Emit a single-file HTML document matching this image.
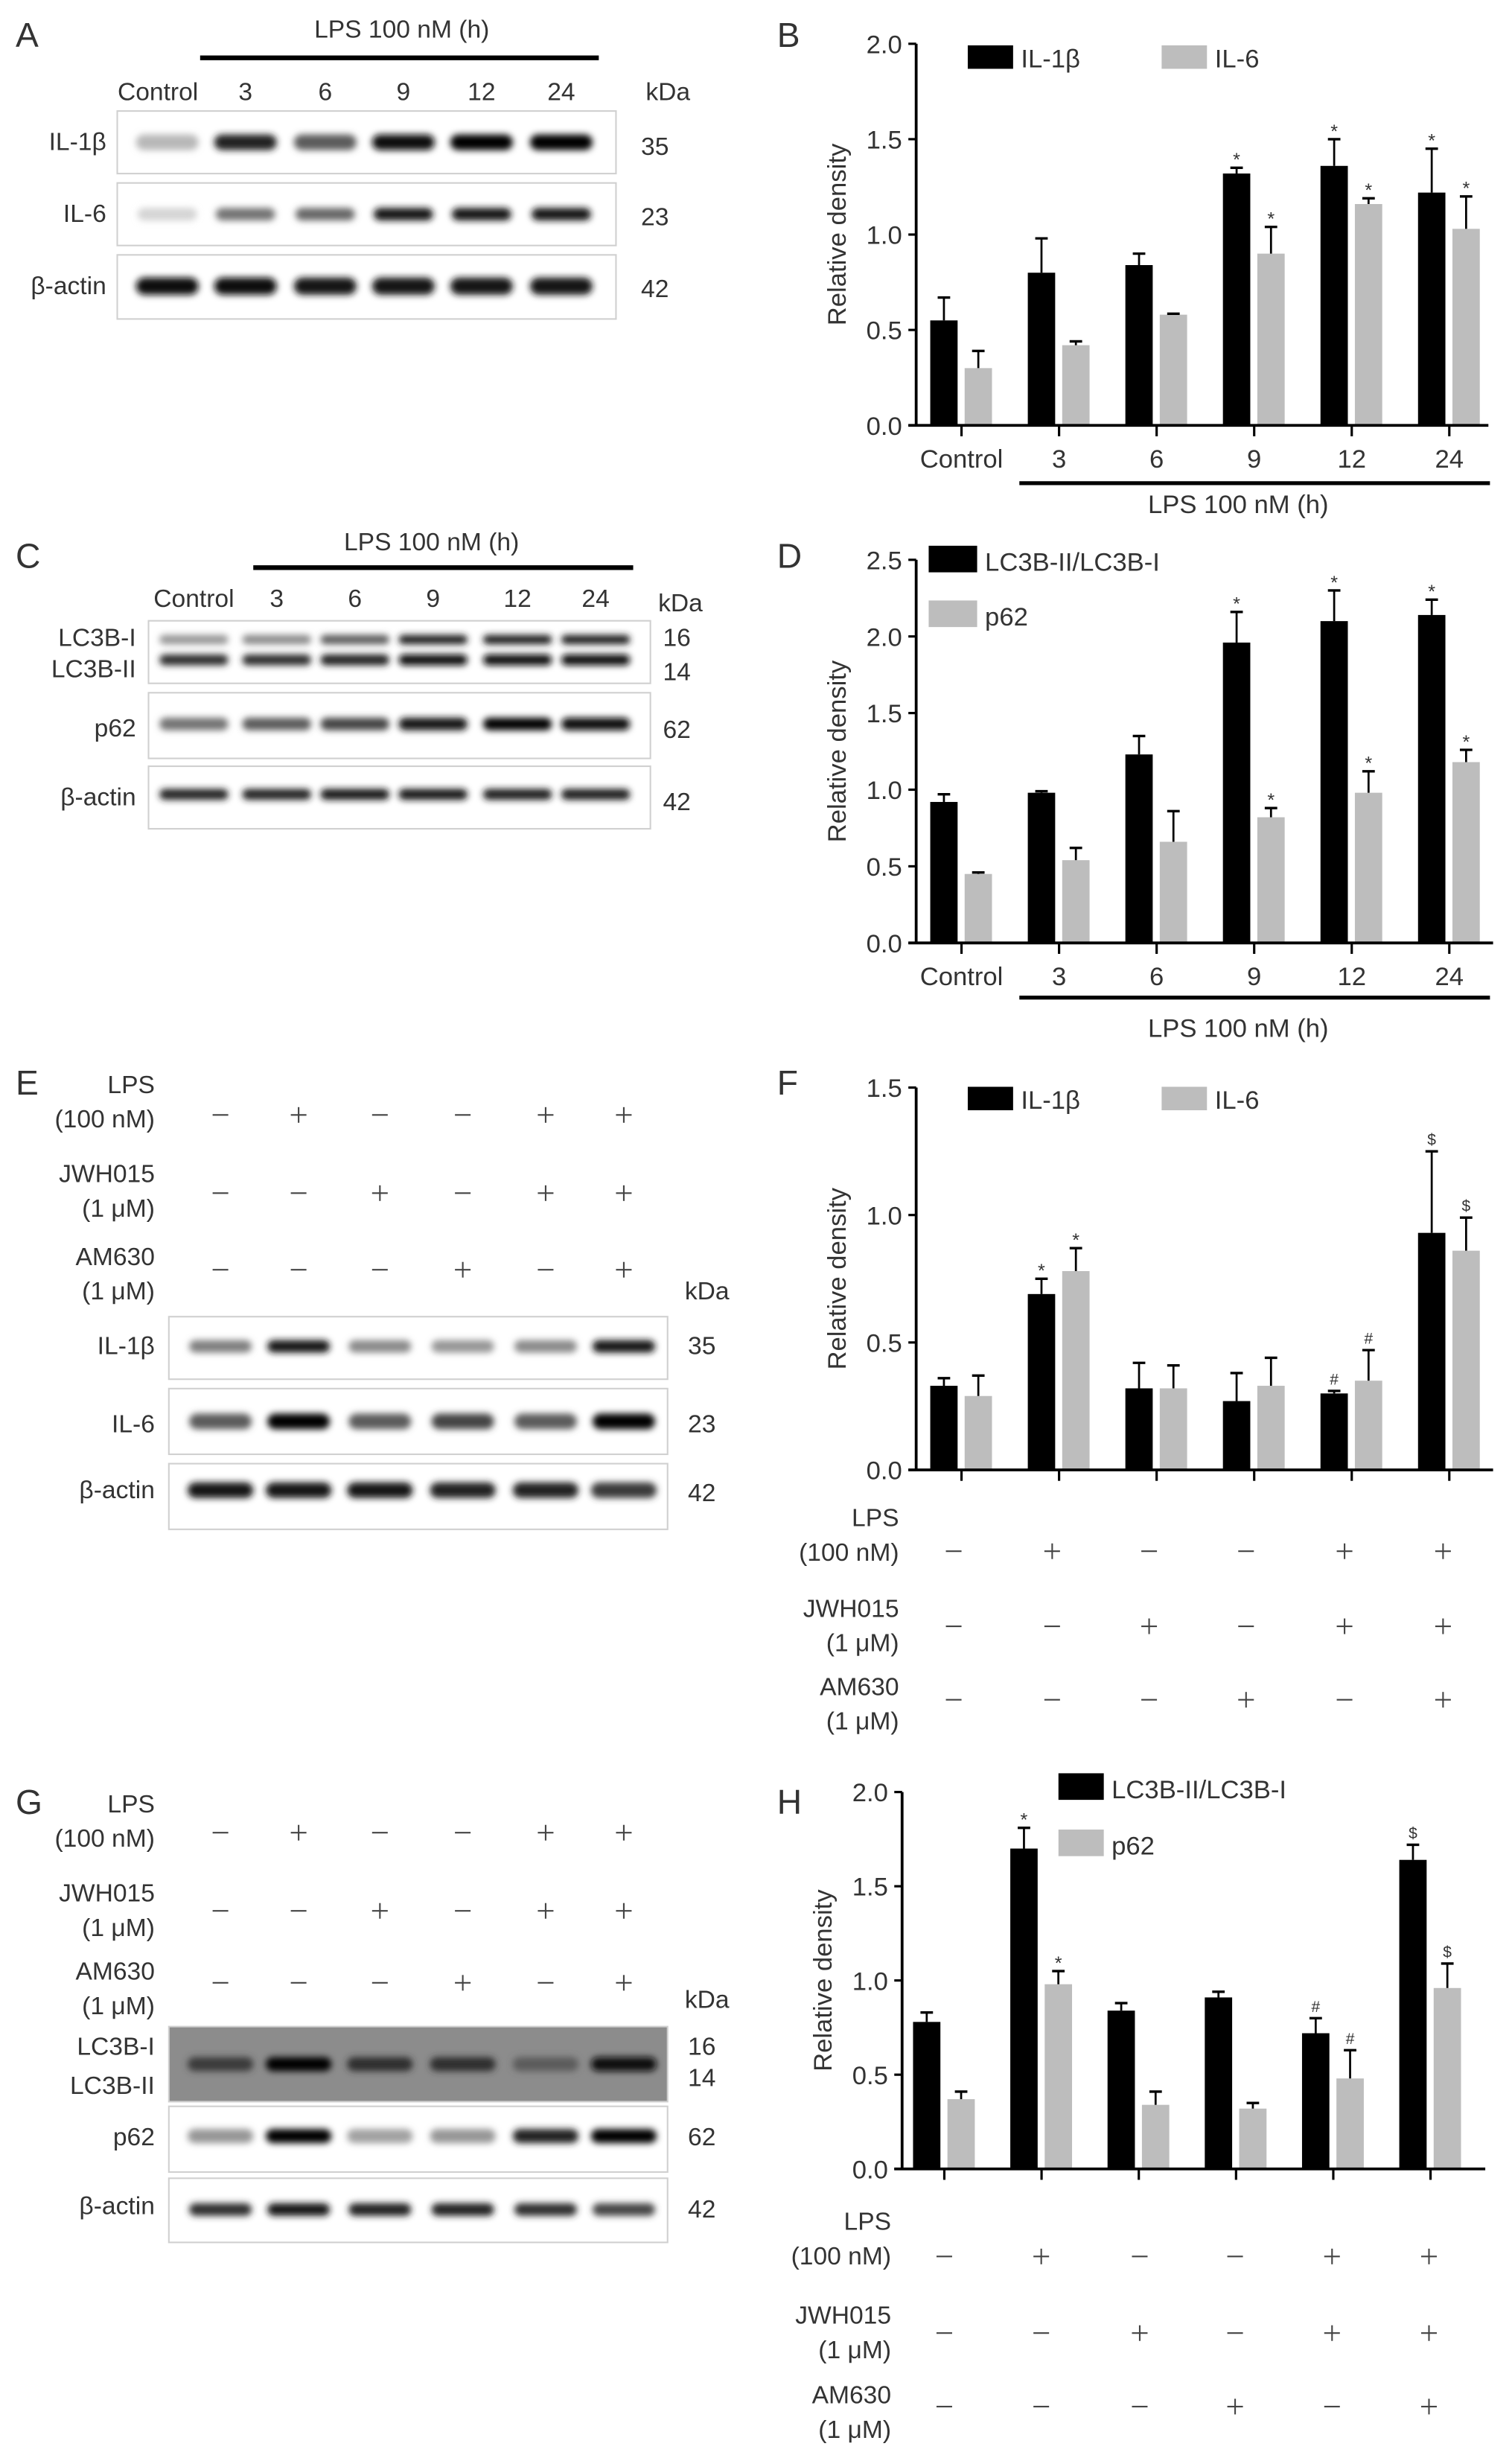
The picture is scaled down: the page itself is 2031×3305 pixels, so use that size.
<!DOCTYPE html>
<html><head><meta charset="utf-8"><style>
html,body{margin:0;padding:0;background:#fff;}
svg{display:block;}
text{font-family:"Liberation Sans",sans-serif;fill:#333;}
</style></head><body>
<svg id="fig" width="2031" height="3305" viewBox="0 0 967.1 1573.8" preserveAspectRatio="none" xmlns="http://www.w3.org/2000/svg">
<defs>
<filter id="blur" x="-30%" y="-100%" width="160%" height="300%"><feGaussianBlur stdDeviation="2.2"/></filter>
</defs>
</svg>
<script>
// ---------- chart data ----------
const groupsBD = ["Control","3","6","9","12","24"];
const bIL1b = [0.55,0.80,0.84,1.32,1.36,1.22];
const bIL1bErr = [0.12,0.18,0.06,0.03,0.14,0.23];
const bIL6 = [0.30,0.42,0.58,0.90,1.16,1.03];
const bIL6Err = [0.09,0.02,0.005,0.14,0.03,0.17];
const bMarks1 = ["","","","*","*","*"];
const bMarks2 = ["","","","*","*","*"];
const bTicks = [0,0.5,1.0,1.5,2.0];

const dLC3 = [0.92,0.98,1.23,1.96,2.10,2.14];
const dLC3Err = [0.05,0.01,0.12,0.20,0.20,0.10];
const dP62 = [0.45,0.54,0.66,0.82,0.98,1.18];
const dP62Err = [0.01,0.08,0.20,0.06,0.14,0.08];
const dMarks1 = ["","","","*","*","*"];
const dMarks2 = ["","","","*","*","*"];
const dTicks = [0,0.5,1.0,1.5,2.0,2.5];

const fIL1b = [0.33,0.69,0.32,0.27,0.30,0.93];
const fIL1bErr = [0.03,0.06,0.10,0.11,0.01,0.32];
const fIL6 = [0.29,0.78,0.32,0.33,0.35,0.86];
const fIL6Err = [0.08,0.09,0.09,0.11,0.12,0.13];
const fMarks1 = ["","*","","","#","$"];
const fMarks2 = ["","*","","","#","$"];
const fTicks = [0,0.5,1.0,1.5];

const hLC3 = [0.78,1.70,0.84,0.91,0.72,1.64];
const hLC3Err = [0.05,0.11,0.04,0.03,0.08,0.08];
const hP62 = [0.37,0.98,0.34,0.32,0.48,0.96];
const hP62Err = [0.04,0.07,0.07,0.03,0.15,0.13];
const hMarks1 = ["","*","","","#","$"];
const hMarks2 = ["","*","","","#","$"];
const hTicks = [0,0.5,1.0,1.5,2.0];

const lpsSigns = ["-","+","-","-","+","+"];
const jwhSigns = ["-","-","+","-","+","+"];
const amSigns  = ["-","-","-","+","-","+"];

const svg = document.getElementById('fig');
const NS = "http://www.w3.org/2000/svg";
function el(tag, attrs, parent){
  const e = document.createElementNS(NS, tag);
  for (const k in attrs) e.setAttribute(k, attrs[k]);
  (parent||svg).appendChild(e);
  return e;
}
function txt(x,y,s,size,anchor,parent){
  const t = el('text',{x:x,y:y,'font-size':size,'text-anchor':anchor||'start'},parent);
  t.textContent = s;
  return t;
}
function group(name){
  const g = el('g',{});
  
  
  return g;
}
function sign(x,y,s,parent){
  if (s==="+"){
    el('line',{x1:x-5,y1:y,x2:x+5,y2:y,stroke:'#444','stroke-width':1},parent);
    el('line',{x1:x,y1:y-5,x2:x,y2:y+5,stroke:'#444','stroke-width':1},parent);
  } else {
    el('line',{x1:x-5,y1:y,x2:x+5,y2:y,stroke:'#444','stroke-width':1},parent);
  }
}

// ---------- bar chart ----------
function chart(cfg){
  const g = group(cfg.name);
  const yv = v => cfg.y0 - v*cfg.ppu;
  const cx = i => cfg.c0 + i*cfg.step;
  // bars
  const series = [[cfg.s1,cfg.e1,cfg.m1,'#000',-20],[cfg.s2,cfg.e2,cfg.m2,'#bdbdbd',2]];
  series.forEach((s,si)=>{
    s[0].forEach((v,i)=>{
      const x = cx(i)+s[4];
      const r = el('rect',{x:x,y:yv(v),width:17.5,height:v*cfg.ppu,fill:s[3]},g);
      
      
      const top = yv(v+s[1][i]);
      const mx = x+8.75;
      el('line',{x1:mx,y1:yv(v),x2:mx,y2:top,stroke:'#000','stroke-width':1.3},g);
      el('line',{x1:mx-4,y1:top,x2:mx+4,y2:top,stroke:'#000','stroke-width':1.6},g);
      if (s[2][i]) {
        const sz = s[2][i]==="*"?12:10;
        txt(mx, top-(s[2][i]==="*"?1:4), s[2][i], sz, 'middle', g);
      }
    });
  });
  // axes
  el('line',{x1:cfg.ax,y1:yv(cfg.ticks[cfg.ticks.length-1]),x2:cfg.ax,y2:cfg.y0,stroke:'#000','stroke-width':1.8},g);
  el('line',{x1:cfg.ax-5,y1:cfg.y0,x2:cfg.xend,y2:cfg.y0,stroke:'#000','stroke-width':1.8},g);
  cfg.ticks.forEach(t=>{
    el('line',{x1:cfg.ax-5,y1:yv(t),x2:cfg.ax,y2:yv(t),stroke:'#000','stroke-width':1.5},g);
    const l = txt(cfg.ax-9, yv(t)+6, t.toFixed(1), 16.5, 'end', g);
    
    
  });
  for (let i=0;i<6;i++){
    el('line',{x1:cx(i),y1:cfg.y0,x2:cx(i),y2:cfg.y0+7,stroke:'#000','stroke-width':1.5},g);
    if (cfg.cats){
      const l = txt(cx(i), cfg.y0+27, cfg.cats[i], 16.5, 'middle', g);
      
      
    }
  }
  const yt = yv(cfg.ticks[cfg.ticks.length-1]/2);
  const ya = txt(0,0,'Relative density',16.5,'middle',g);
  ya.setAttribute('transform','translate('+(cfg.ax-45)+','+yt+') rotate(-90)');
  
  
  // legend
  cfg.legend.forEach((lg,i)=>{
    const lgr = el('rect',{x:lg[0],y:lg[1],width:lg[2],height:lg[3],fill:i?'#bdbdbd':'#000'},g);
    
    
    const t = txt(lg[0]+lg[2]+5, lg[1]+lg[3]-1, i?cfg.n2:cfg.n1, 16.5, 'start', g);
    
    
  });
  return g;
}

chart({name:'chart-b',ax:586,y0:272,ppu:122,c0:615,step:62.4,xend:952,ticks:bTicks,cats:groupsBD,
  s1:bIL1b,e1:bIL1bErr,s2:bIL6,e2:bIL6Err,m1:bMarks1,m2:bMarks2,n1:'IL-1β',n2:'IL-6',
  legend:[[619,29,29,15],[743,29,29,15]]});
chart({name:'chart-d',ax:586,y0:603,ppu:98,c0:615,step:62.4,xend:955,ticks:dTicks,cats:groupsBD,
  s1:dLC3,e1:dLC3Err,s2:dP62,e2:dP62Err,m1:dMarks1,m2:dMarks2,n1:'LC3B-II/LC3B-I',n2:'p62',
  legend:[[594,349,31,17],[594,384,31,17]]});
chart({name:'chart-f',ax:586,y0:940,ppu:163,c0:615,step:62.4,xend:955,ticks:fTicks,cats:null,
  s1:fIL1b,e1:fIL1bErr,s2:fIL6,e2:fIL6Err,m1:fMarks1,m2:fMarks2,n1:'IL-1β',n2:'IL-6',
  legend:[[619,695,29,15],[743,695,29,15]]});
chart({name:'chart-h',ax:577,y0:1387,ppu:120.5,c0:604,step:62.2,xend:950,ticks:hTicks,cats:null,
  s1:hLC3,e1:hLC3Err,s2:hP62,e2:hP62Err,m1:hMarks1,m2:hMarks2,n1:'LC3B-II/LC3B-I',n2:'p62',
  legend:[[677,1134,29,17],[677,1170,29,17]]});

// LPS bars under B, D
[[309,325],[638,660]].forEach(p=>{
  const g = group('lps-time-bar');
  el('line',{x1:652,y1:p[0],x2:953,y2:p[0],stroke:'#000','stroke-width':2.5},g);
  txt(792,p[1]+3,'LPS 100 nM (h)',16.5,'middle',g);
});

// treatment tables for F and H
function treatTable(name, xr, ys, xs){
  const g = group(name);
  const labels = [["LPS","(100 nM)",lpsSigns],["JWH015","(1 μM)",jwhSigns],["AM630","(1 μM)",amSigns]];
  labels.forEach((lb,r)=>{
    txt(xr, ys[r][0], lb[0], 16, 'end', g);
    txt(xr, ys[r][1], lb[1], 16, 'end', g);
    lb[2].forEach((s,i)=> sign(xs[i], ys[r][2], s, g));
  });
}
const fx = [610,673,735,797,860,923];
treatTable('treatment-table-f', 575, [[976,998,992],[1034,1056,1040],[1084,1106,1087]], fx);
const hx = [604,666,729,790,852,914];
treatTable('treatment-table-h', 570, [[1426,1448,1443],[1486,1508,1492],[1537,1559,1539]], hx);
const ex = [141,191,243,296,349,399];
treatTable('treatment-table-e', 99, [[699,721,713],[756,778,763],[809,831,812]], ex);
treatTable('treatment-table-g', 99, [[1159,1181,1172],[1216,1238,1222],[1266,1288,1268]], ex);

// ---------- blots ----------
function blotBox(name,x,y,w,h,bg){
  const g = group(name);
  el('rect',{x:x,y:y,width:w,height:h,fill:bg||'#fff',stroke:'#d0d0d0','stroke-width':1},g);
  return g;
}
function bands(g,xs,y,ints,w,h){
  ints.forEach((v,i)=>{
    const c = Math.round(230*(1-v));
    const b = el('rect',{x:xs[i]-w/2,y:y-h/2,width:w,height:h,rx:h/2,fill:'rgb('+c+','+c+','+c+')',filter:'url(#blur)'},g);
    
    
  });
}
// letters
[['A',10,30],['B',497,30],['C',10,363],['D',497,363],['E',10,700],['F',497,700],['G',10,1160],['H',497,1160]].forEach(l=>{
  const t = txt(l[1],l[2],l[0],22,'start');
  
  
});

// Panel A
(function(){
  const xs=[107,157,208,258,308,359];
  const g=group('blot-a-header');
  el('line',{x1:128,y1:37,x2:383,y2:37,stroke:'#000','stroke-width':3},g);
  txt(257,24,'LPS 100 nM (h)',16,'middle',g);
  ["Control","3","6","9","12","24"].forEach((s,i)=>txt(xs[i]-(i?0:6),64,s,16,'middle',g));
  txt(413,64,'kDa',16,'start',g);
  let b=blotBox('blot-a-il1b',75,71,319,40); bands(b,xs,91,[0.2,0.85,0.6,0.95,1,1],40,10);
  txt(68,96,'IL-1β',16,'end',b); txt(410,99,'35',16,'start',b);
  b=blotBox('blot-a-il6',75,117,319,40); bands(b,xs,137,[0.08,0.5,0.55,0.9,0.92,0.9],38,8);
  txt(68,142,'IL-6',16,'end',b); txt(410,144,'23',16,'start',b);
  b=blotBox('blot-a-actin',75,163,319,41); bands(b,xs,183,[0.95,0.95,0.9,0.9,0.9,0.92],40,11);
  txt(68,188,'β-actin',16,'end',b); txt(410,190,'42',16,'start',b);
})();
// Panel C
(function(){
  const xs=[124,177,227,277,331,381];
  const g=group('blot-c-header');
  el('line',{x1:162,y1:363,x2:405,y2:363,stroke:'#000','stroke-width':3},g);
  txt(276,352,'LPS 100 nM (h)',16,'middle',g);
  ["Control","3","6","9","12","24"].forEach((s,i)=>txt(xs[i],388,s,16,'middle',g));
  txt(421,391,'kDa',16,'start',g);
  let b=blotBox('blot-c-lc3',95,397,321,40); bands(b,xs,409,[0.35,0.4,0.6,0.85,0.85,0.85],44,6); bands(b,xs,422,[0.8,0.8,0.85,0.95,0.95,0.95],44,7);
  txt(87,413,'LC3B-I',16,'end',b); txt(87,433,'LC3B-II',16,'end',b); txt(424,413,'16',16,'start',b); txt(424,435,'14',16,'start',b);
  b=blotBox('blot-c-p62',95,443,321,42); bands(b,xs,463,[0.5,0.6,0.7,0.9,1,0.95],44,8);
  txt(87,471,'p62',16,'end',b); txt(424,472,'62',16,'start',b);
  b=blotBox('blot-c-actin',95,490,321,40); bands(b,xs,508,[0.85,0.85,0.9,0.9,0.88,0.88],44,7);
  txt(87,515,'β-actin',16,'end',b); txt(424,518,'42',16,'start',b);
})();
// Panel E
(function(){
  const xs=[141,191,243,296,349,399];
  const g=group('blot-e-header'); txt(438,831,'kDa',16,'start',g);
  let b=blotBox('blot-e-il1b',108,842,319,40); bands(b,xs,861,[0.45,0.9,0.4,0.35,0.4,0.9],40,8);
  txt(99,866,'IL-1β',16,'end',b); txt(440,866,'35',16,'start',b);
  b=blotBox('blot-e-il6',108,888,319,42); bands(b,xs,909,[0.6,1,0.6,0.7,0.6,1],40,10);
  txt(99,916,'IL-6',16,'end',b); txt(440,916,'23',16,'start',b);
  b=blotBox('blot-e-actin',108,936,319,42); bands(b,xs,953,[0.9,0.9,0.9,0.85,0.85,0.75],42,10);
  txt(99,958,'β-actin',16,'end',b); txt(440,960,'42',16,'start',b);
})();
// Panel G
(function(){
  const xs=[141,191,243,296,349,399];
  const g=group('blot-g-header'); txt(438,1284,'kDa',16,'start',g);
  let b=blotBox('blot-g-lc3',108,1296,319,48,'#8c8c8c'); bands(b,xs,1320,[0.75,1,0.8,0.8,0.6,0.95],42,9);
  txt(99,1314,'LC3B-I',16,'end',b); txt(99,1339,'LC3B-II',16,'end',b); txt(440,1314,'16',16,'start',b); txt(440,1334,'14',16,'start',b);
  b=blotBox('blot-g-p62',108,1347,319,42); bands(b,xs,1366,[0.35,1,0.3,0.35,0.85,1],42,9);
  txt(99,1372,'p62',16,'end',b); txt(440,1372,'62',16,'start',b);
  b=blotBox('blot-g-actin',108,1393,319,41); bands(b,xs,1413,[0.8,0.9,0.85,0.85,0.8,0.7],40,8);
  txt(99,1416,'β-actin',16,'end',b); txt(440,1418,'42',16,'start',b);
})();
</script>
</body></html>
